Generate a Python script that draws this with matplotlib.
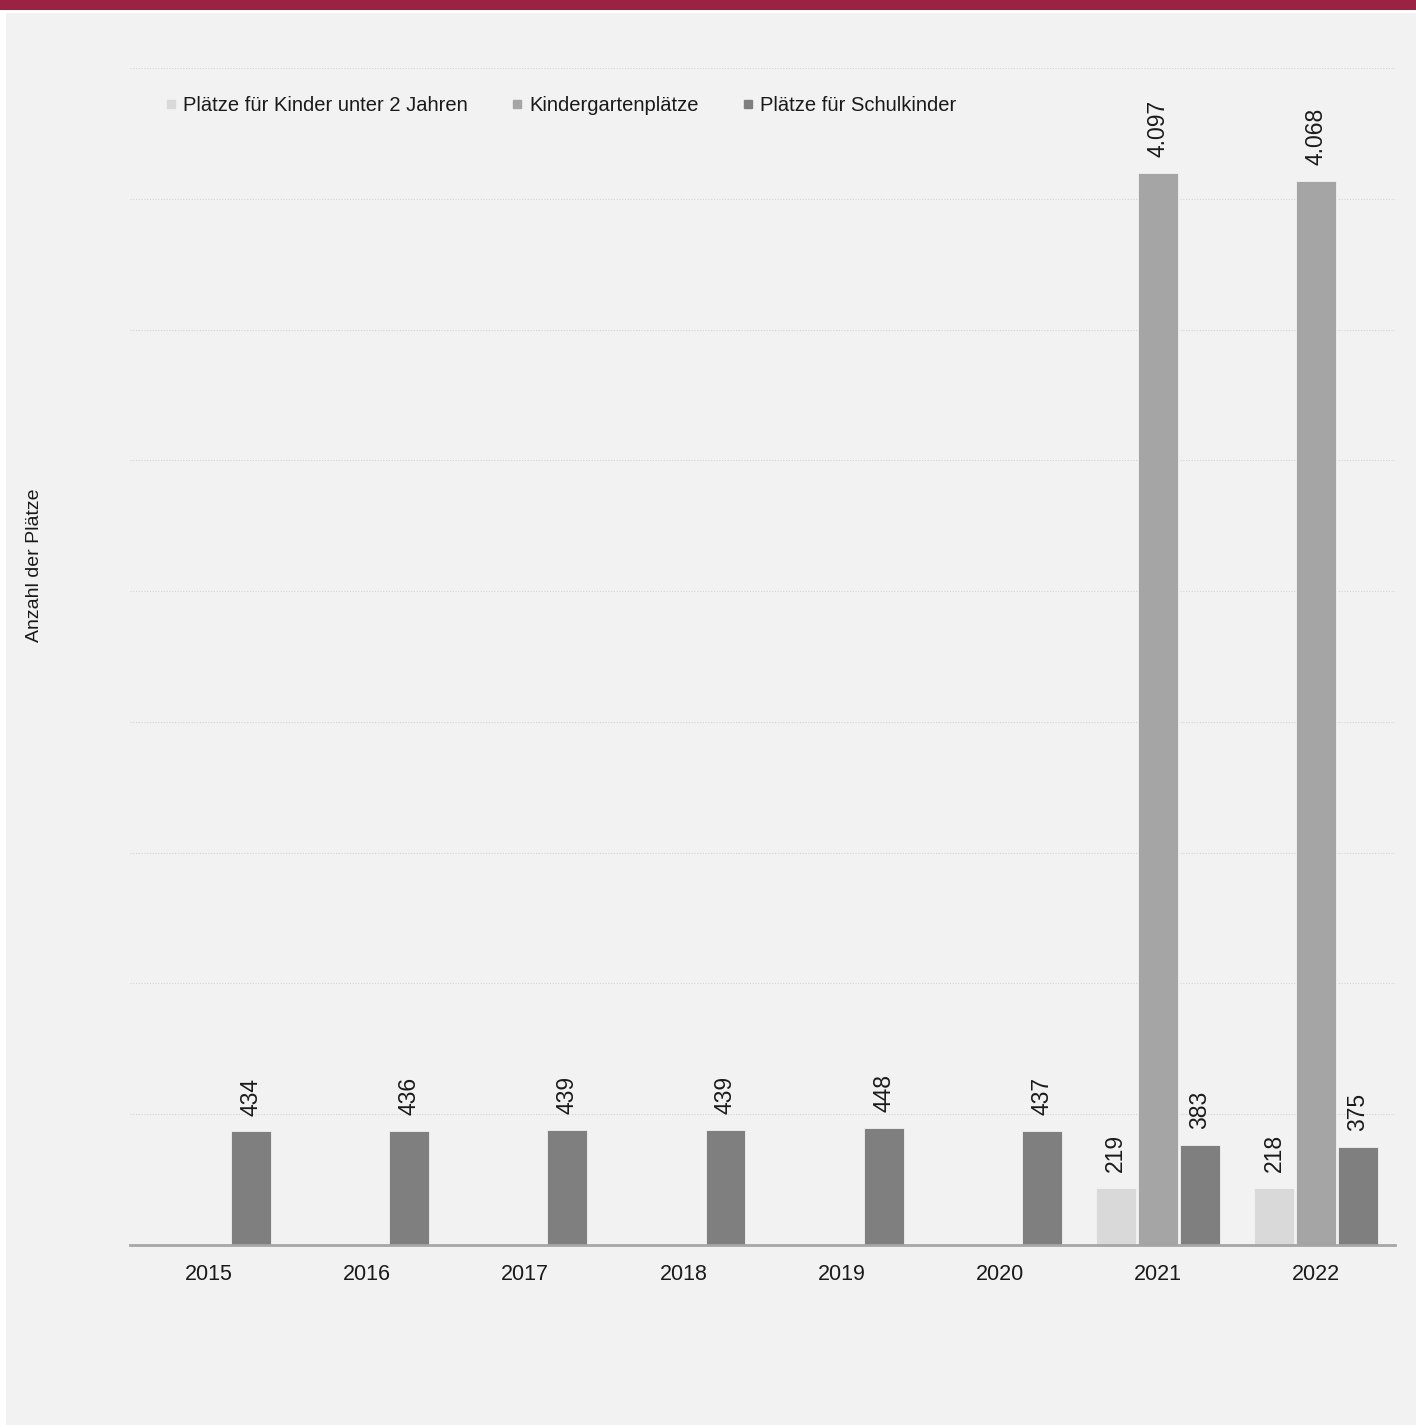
import numpy as np
import matplotlib.pyplot as plt
from matplotlib.patches import Rectangle
from matplotlib.lines import Line2D

years = ['2015', '2016', '2017', '2018', '2019', '2020', '2021', '2022']
unter2 = [np.nan, np.nan, np.nan, np.nan, np.nan, np.nan, 219, 218]
kindergarten = [np.nan, np.nan, np.nan, np.nan, np.nan, np.nan, 4097, 4068]
schulkinder = [434, 436, 439, 439, 448, 437, 383, 375]

series_names = ['Plätze für Kinder unter 2 Jahren', 'Kindergartenplätze', 'Plätze für Schulkinder']
colors = ['#d9d9d9', '#a5a5a5', '#7f7f7f']

plt.rcParams['font.family'] = ['Liberation Sans', 'DejaVu Sans']

W, H = 1416, 1425
fig = plt.figure(figsize=(W / 100, H / 100), dpi=100)
fig.patch.set_facecolor('white')
# gray panel + red band on top
fig.add_artist(Rectangle((6 / W, 0), 1 - 6 / W, 1 - 13 / H, transform=fig.transFigure,
                         facecolor='#f2f2f2', edgecolor='none', zorder=-2))
fig.add_artist(Rectangle((0, 1 - 10 / H), 1, 10 / H, transform=fig.transFigure,
                         facecolor='#9b2240', edgecolor='none', zorder=-1))

ax = fig.add_axes([130 / W, 1 - 1245 / H, 1265 / W, 1177 / H])
ax.set_facecolor('none')

x = np.arange(len(years))
w = 0.252
off = 0.266
for i, (vals, c) in enumerate(zip([unter2, kindergarten, schulkinder], colors)):
    pos = x + (i - 1) * off
    ax.bar(pos, vals, width=w, color=c, edgecolor='#f2f2f2', linewidth=0.6, zorder=3)
    for p, v in zip(pos, vals):
        if np.isnan(v):
            continue
        txt = f'{int(v):,}'.replace(',', '.')
        ax.annotate(txt, (p, v), xytext=(0, 11.5), textcoords='offset points',
                    rotation=90, ha='center', va='bottom', fontsize=16.5, color='#1a1a1a')

ax.set_xlim(-0.5, len(years) - 0.5)
ax.set_ylim(0, 4500)
ax.set_yticks(np.arange(0, 4501, 500))
ax.yaxis.grid(True, linestyle=(0, (1, 1.5)), color='#d4d4d4', linewidth=0.8, zorder=0)
ax.tick_params(axis='y', left=False, labelleft=False)
ax.set_xticks(x)
ax.set_xticklabels(years, fontsize=15.5, color='#1a1a1a')
ax.tick_params(axis='x', length=0, pad=14)
for s in ['top', 'right', 'left']:
    ax.spines[s].set_visible(False)
ax.spines['bottom'].set_color('#a6a6a6')
ax.spines['bottom'].set_linewidth(2)
ax.spines['bottom'].set_zorder(4)

fig.text(35 / W, 1 - 565 / H, 'Anzahl der Plätze', rotation=90, ha='center', va='center',
         fontsize=14, color='#1a1a1a')

handles = [Line2D([], [], marker='s', linestyle='none', markersize=6, color=c) for c in colors]
ax.legend(handles, series_names, loc='upper left', bbox_to_anchor=(0.021, 0.983), ncol=3,
          frameon=False, fontsize=14.5, handlelength=0.6, handletextpad=0.3, columnspacing=2.15,
          borderaxespad=0, labelcolor='#1a1a1a')

fig.savefig('out.png', dpi=100)
